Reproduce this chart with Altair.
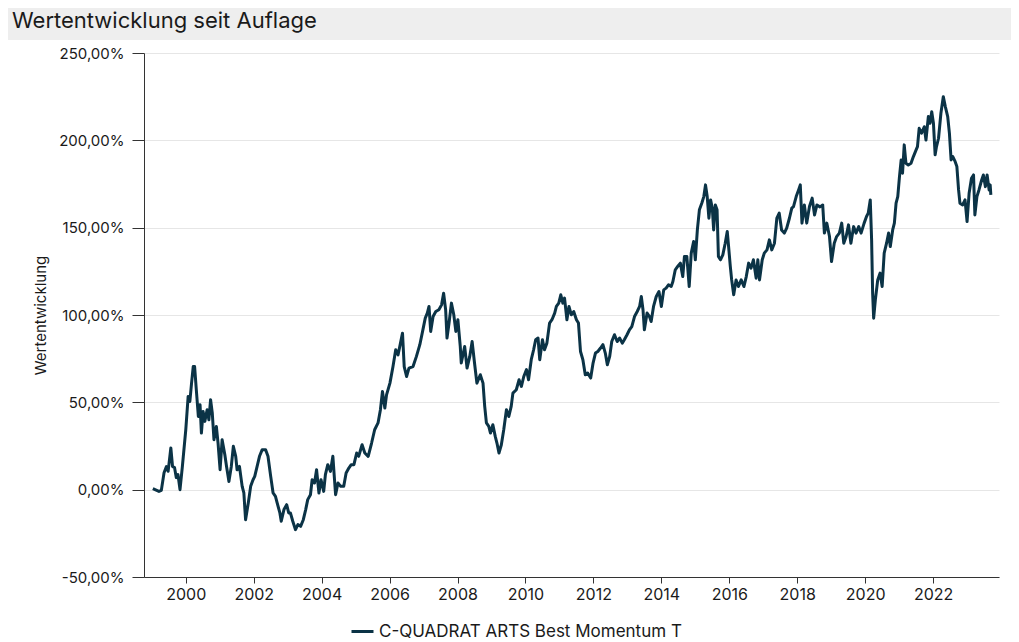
import altair as alt
import pandas as pd

title_text = "Wertentwicklung seit Auflage"
series_name = "C-QUADRAT ARTS Best Momentum T"
y_title = "Wertentwicklung"

x_ticks = [2000, 2002, 2004, 2006, 2008, 2010, 2012, 2014, 2016, 2018, 2020, 2022]
y_ticks = [-50, 0, 50, 100, 150, 200, 250]

years = [
    1999.03, 1999.21, 1999.28, 1999.36, 1999.43, 1999.48, 1999.56, 1999.61, 1999.67, 1999.72,
    1999.77, 1999.83, 1999.90, 2000.00, 2000.07, 2000.12, 2000.17, 2000.22, 2000.26, 2000.31,
    2000.37, 2000.42, 2000.46, 2000.51, 2000.56, 2000.63, 2000.68, 2000.73, 2000.78, 2000.83,
    2000.90, 2000.95, 2001.01, 2001.07, 2001.15, 2001.20, 2001.27, 2001.34, 2001.40, 2001.47,
    2001.51, 2001.58, 2001.66, 2001.71, 2001.76, 2001.84, 2001.91, 2001.98, 2002.03, 2002.10,
    2002.17, 2002.25, 2002.35, 2002.42, 2002.50, 2002.57, 2002.64, 2002.69, 2002.77, 2002.81,
    2002.89, 2002.97, 2003.03, 2003.08, 2003.15, 2003.23, 2003.30, 2003.38, 2003.46, 2003.53,
    2003.59, 2003.67, 2003.72, 2003.79, 2003.85, 2003.92, 2003.98, 2004.06, 2004.11, 2004.18,
    2004.26, 2004.33, 2004.41, 2004.48, 2004.56, 2004.65, 2004.72, 2004.80, 2004.87, 2004.95,
    2005.03, 2005.09, 2005.19, 2005.27, 2005.37, 2005.47, 2005.56, 2005.66, 2005.73, 2005.79,
    2005.86, 2005.91, 2006.01, 2006.10, 2006.18, 2006.25, 2006.32, 2006.38, 2006.43, 2006.50,
    2006.57, 2006.69, 2006.79, 2006.89, 2006.98, 2007.05, 2007.11, 2007.16, 2007.21, 2007.28,
    2007.36, 2007.45, 2007.53, 2007.59, 2007.65, 2007.69, 2007.75, 2007.82, 2007.89, 2007.95,
    2008.01, 2008.08, 2008.11, 2008.21, 2008.28, 2008.36, 2008.43, 2008.50, 2008.57, 2008.67,
    2008.75, 2008.80, 2008.85, 2008.92, 2008.97, 2009.04, 2009.11, 2009.16, 2009.22, 2009.29,
    2009.36, 2009.44, 2009.51, 2009.58, 2009.63, 2009.73, 2009.81, 2009.88, 2009.95, 2010.03,
    2010.09, 2010.17, 2010.24, 2010.30, 2010.37, 2010.42, 2010.50, 2010.56, 2010.63, 2010.71,
    2010.78, 2010.86, 2010.91, 2010.98, 2011.04, 2011.10, 2011.15, 2011.22, 2011.28, 2011.35,
    2011.42, 2011.50, 2011.56, 2011.62, 2011.69, 2011.76, 2011.83, 2011.92, 2011.99, 2012.06,
    2012.13, 2012.21, 2012.28, 2012.35, 2012.41, 2012.48, 2012.54, 2012.62, 2012.70, 2012.77,
    2012.85, 2012.91, 2012.99, 2013.06, 2013.13, 2013.21, 2013.29, 2013.36, 2013.41, 2013.46,
    2013.50, 2013.58, 2013.65, 2013.70, 2013.77, 2013.85, 2013.93, 2014.00, 2014.07, 2014.14,
    2014.21, 2014.29, 2014.34, 2014.41, 2014.48, 2014.56, 2014.63, 2014.68, 2014.75, 2014.82,
    2014.88, 2014.95, 2015.00, 2015.06, 2015.12, 2015.19, 2015.25, 2015.30, 2015.35, 2015.40,
    2015.45, 2015.50, 2015.54, 2015.59, 2015.64, 2015.68, 2015.74, 2015.81, 2015.88, 2015.94,
    2015.98, 2016.03, 2016.07, 2016.13, 2016.20, 2016.27, 2016.35, 2016.43, 2016.50, 2016.57,
    2016.64, 2016.71, 2016.79, 2016.84, 2016.89, 2016.97, 2017.03, 2017.11, 2017.18, 2017.25,
    2017.33, 2017.40, 2017.47, 2017.54, 2017.62, 2017.69, 2017.77, 2017.84, 2017.89, 2017.97,
    2018.04, 2018.09, 2018.14, 2018.21, 2018.28, 2018.36, 2018.44, 2018.51, 2018.58, 2018.67,
    2018.75, 2018.80, 2018.87, 2018.95, 2019.01, 2019.09, 2019.16, 2019.24, 2019.31, 2019.37,
    2019.44, 2019.51, 2019.58, 2019.66, 2019.73, 2019.81, 2019.88, 2019.97, 2020.04, 2020.09,
    2020.15, 2020.19, 2020.22, 2020.25, 2020.30, 2020.37, 2020.44, 2020.50, 2020.56, 2020.63,
    2020.69, 2020.74, 2020.81, 2020.86, 2020.91, 2020.96, 2021.01, 2021.06, 2021.10, 2021.15,
    2021.20, 2021.27, 2021.35, 2021.42, 2021.50, 2021.54, 2021.59, 2021.66, 2021.74, 2021.79,
    2021.86, 2021.91, 2021.96, 2022.01, 2022.06, 2022.10, 2022.16, 2022.23, 2022.30, 2022.36,
    2022.43, 2022.48, 2022.53, 2022.58, 2022.65, 2022.70, 2022.75, 2022.79, 2022.87, 2022.94,
    2023.00, 2023.06, 2023.13, 2023.19, 2023.23, 2023.29, 2023.35, 2023.43, 2023.48, 2023.54,
    2023.59, 2023.65, 2023.68, 2023.70,
]

values = [
    0.6, -1.0, -0.4, 9.7, 13.2, 10.5, 23.9, 13.3, 12.6, 6.9,
    8.6, 0.0, 13.3, 34.3, 53.4, 50.5, 61.0, 70.5, 70.5, 57.2,
    41.9, 48.6, 32.4, 44.8, 39.1, 45.8, 40.0, 51.5, 43.9, 28.6,
    36.2, 26.7, 11.4, 28.6, 20.0, 13.3, 4.7, 13.3, 24.8, 19.1,
    11.4, 13.3, 1.9, -1.9, -17.2, -7.6, 1.9, 5.7, 7.6, 13.3,
    19.1, 22.9, 22.9, 19.1, 7.6, -1.9, -3.8, -7.6, -13.3, -18.1,
    -11.4, -8.6, -13.3, -13.3, -18.1, -22.9, -20.0, -21.0, -17.2, -11.4,
    -5.7, -2.9, 5.7, 3.8, 11.4, -1.9, 5.7, -1.0, 8.6, 14.3,
    10.5, 19.1, -2.9, 3.8, 1.9, 1.9, 9.6, 12.4, 14.3, 14.3,
    21.0, 19.1, 25.7, 21.0, 19.1, 26.7, 34.3, 38.2, 45.8, 56.2,
    46.7, 54.3, 61.0, 70.5, 80.1, 77.2, 83.9, 89.6, 70.5, 64.8,
    69.6, 70.5, 76.3, 83.0, 91.5, 98.2, 101.1, 104.9, 90.6, 99.1,
    102.0, 103.0, 105.8, 112.5, 103.0, 86.8, 95.4, 106.8, 100.1, 90.6,
    97.3, 82.0, 72.5, 82.0, 69.6, 76.3, 84.8, 72.5, 61.0, 65.8,
    61.0, 47.7, 38.2, 36.2, 32.4, 37.2, 30.5, 26.7, 21.0, 25.7,
    34.3, 45.8, 41.9, 47.7, 55.3, 57.2, 62.9, 59.1, 64.8, 68.7,
    62.9, 74.4, 80.1, 85.8, 86.8, 74.4, 85.8, 80.1, 83.9, 95.4,
    97.3, 101.1, 104.9, 106.8, 111.6, 106.8, 109.7, 97.3, 104.9, 100.1,
    102.0, 97.3, 95.4, 79.1, 74.4, 65.8, 66.8, 63.9, 72.5, 78.2,
    79.1, 81.1, 83.0, 78.2, 71.5, 76.3, 84.8, 88.7, 84.8, 86.8,
    83.9, 85.8, 88.7, 91.5, 93.4, 99.1, 102.0, 104.9, 110.6, 103.0,
    91.5, 101.1, 99.1, 96.3, 104.9, 110.6, 113.4, 104.9, 114.4, 115.4,
    117.3, 116.3, 119.2, 125.9, 127.8, 129.7, 122.0, 133.5, 133.5, 116.3,
    135.4, 142.1, 131.6, 148.7, 160.2, 164.0, 167.8, 174.5, 167.8, 155.4,
    165.9, 161.2, 148.7, 163.0, 160.2, 133.5, 131.6, 134.4, 141.1, 147.8,
    139.2, 127.8, 120.1, 111.6, 120.1, 116.3, 120.1, 116.3, 122.0, 129.7,
    126.8, 131.6, 121.1, 131.6, 120.1, 131.6, 135.4, 137.3, 143.0, 137.3,
    141.1, 155.4, 158.3, 148.7, 146.9, 149.7, 155.4, 161.2, 162.1, 167.8,
    171.6, 174.5, 152.6, 163.0, 152.6, 162.1, 166.9, 157.3, 163.0, 161.9,
    163.0, 146.9, 152.6, 144.9, 130.6, 141.1, 144.9, 146.9, 152.6, 141.1,
    144.9, 151.6, 141.1, 150.6, 146.9, 150.6, 146.9, 152.6, 156.4, 158.3,
    165.9, 143.0, 112.5, 98.2, 108.7, 120.1, 124.0, 116.3, 135.4, 141.1,
    146.9, 139.2, 148.7, 152.6, 164.0, 167.8, 179.2, 188.8, 181.2, 197.4,
    186.9, 185.9, 186.9, 190.7, 194.5, 196.4, 206.9, 204.1, 207.8, 200.2,
    213.6, 209.8, 216.4, 209.8, 191.7, 196.4, 201.2, 215.5, 225.0, 219.3,
    213.6, 204.1, 188.8, 190.7, 187.8, 185.0, 171.6, 164.0, 163.0, 165.9,
    153.5, 169.7, 178.3, 180.2, 157.3, 167.8, 171.6, 177.3, 180.2, 173.5,
    180.2, 171.6, 174.5, 168.8,
]

FONT = "Inter"
TEXT = "#1a1a1a"
LINE = "#0b3346"

df = pd.DataFrame({"Jahr": years, "Wert": values, "Fonds": series_name})

y_label_expr = (
    "(datum.value < 0 ? '-' : '') + "
    "replace(format(abs(datum.value), '.2f'), '.', ',') + '%'"
)

line = alt.Chart(df).mark_line(strokeWidth=3, strokeJoin="round").encode(
    x=alt.X(
        "Jahr:Q",
        scale=alt.Scale(domain=[1998.77, 2023.94], nice=False, zero=False),
        axis=alt.Axis(
            values=x_ticks, format="d", title=None, grid=False,
            tickSize=6, labelPadding=3, labelFontSize=16, labelFont=FONT,
            labelColor=TEXT, domainColor="#333333", tickColor="#333333",
            labelFlush=False,
        ),
    ),
    y=alt.Y(
        "Wert:Q",
        scale=alt.Scale(domain=[-50, 250], nice=False),
        axis=alt.Axis(
            values=y_ticks, labelExpr=y_label_expr, title=y_title,
            tickSize=12, labelPadding=8, labelFontSize=15, labelFont=FONT,
            labelColor=TEXT, titleFont=FONT, titleFontSize=15,
            titleFontWeight="normal", titleColor=TEXT, titlePadding=10,
            grid=True, gridColor="#e6e6e6", domainColor="#333333",
            tickColor="#333333",
        ),
    ),
    color=alt.Color(
        "Fonds:N",
        scale=alt.Scale(range=[LINE]),
        legend=alt.Legend(
            title=None, orient="none", legendX=206, legendY=566,
            symbolType="stroke", symbolSize=484, symbolStrokeWidth=3,
            labelFontSize=17, labelFont=FONT, labelColor=TEXT, labelLimit=0,
        ),
    ),
)

title_df = pd.DataFrame({"t": [title_text]})
band = alt.Chart(title_df).mark_rect(color="#eeeeee").encode(
    x=alt.value(-136), x2=alt.value(867), y=alt.value(-45), y2=alt.value(-13)
)
title = alt.Chart(title_df).mark_text(
    align="left", baseline="middle", fontSize=22, font=FONT, color=TEXT
).encode(text="t:N", x=alt.value(-132), y=alt.value(-32))

chart = alt.layer(band, title, line).properties(
    width=855, height=524,
    padding={"left": 0, "top": 0, "right": 0, "bottom": 0},
).configure_view(stroke=None)

chart.save("out.html", embed_options={"renderer": "svg", "actions": False})
